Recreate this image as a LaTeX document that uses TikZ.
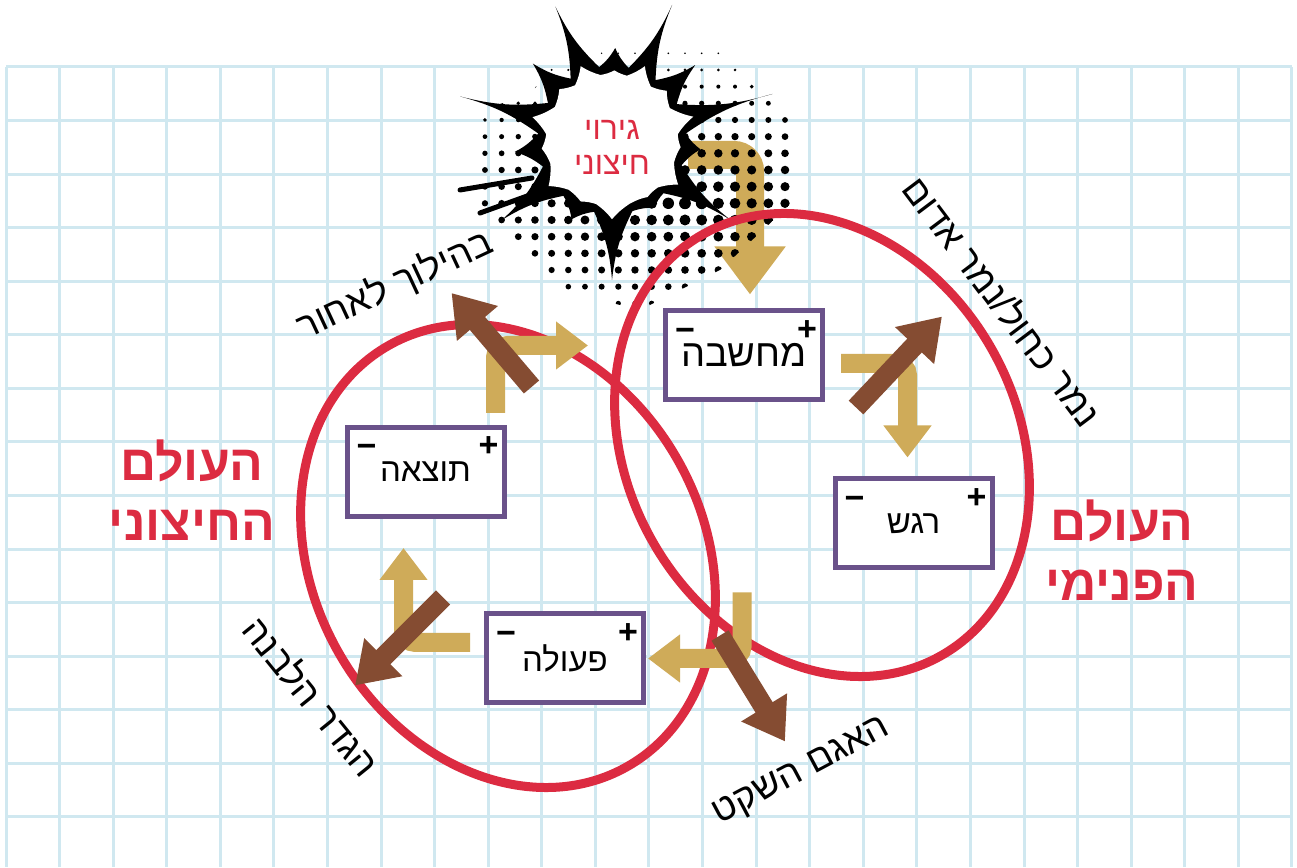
\documentclass[tikz,border=0pt]{standalone}
\usepackage{fontspec}
\setmainfont[Script=Hebrew]{Liberation Sans}
\usetikzlibrary{arrows.meta,positioning}
\TeXXeTstate=1
\definecolor{gridblue}{RGB}{208,232,240}
\definecolor{worldred}{RGB}{220,43,65}
\definecolor{turngold}{RGB}{207,171,89}
\definecolor{escapebrown}{RGB}{133,76,50}
\definecolor{boxpurple}{RGB}{106,82,138}
\tikzset{
    stage/.style={
        draw=boxpurple,
        line width=5pt,
        fill=white,
        minimum width=157pt,
        minimum height=89pt,
        inner sep=0pt,
        font=\fontsize{33}{38}\selectfont
    },
    sign/.style={font=\bfseries\fontsize{34}{34}\selectfont, inner sep=0pt,
        text height=16pt, text depth=0pt},
    turn/.style={draw=turngold, line width=19pt, rounded corners=12pt,
        -{Triangle[width=46pt,length=32pt]}},
    escape/.style={draw=escapebrown, line width=20pt,
        -{Triangle[width=51pt,length=40pt]}},
    ring/.style={draw=worldred, line width=9pt},
    world/.style={text=worldred, align=center,
        font=\bfseries\fontsize{50}{60}\selectfont},
    way/.style={font=\fontsize{37}{42}\selectfont, inner sep=0pt}
}
\begin{document}
\begin{tikzpicture}[x=1pt,y=1pt]
    \useasboundingbox (0,0) rectangle (1297,867);
    \fill[white] (0,0) rectangle (1297,867);
    % squared paper
    \foreach \i in {0,...,24}
        \draw[gridblue, line width=3pt] (6+53.58*\i,0) -- (6+53.58*\i,800);
    \foreach \j in {0,...,14}
        \draw[gridblue, line width=3pt] (6,800-53.57*\j) -- (1292,800-53.57*\j);

    \node[font=\fontsize{32}{35}\selectfont, text=worldred, align=center] (Trigger) at (612,720)
        {\beginR גירוי\endR\\\beginR חיצוני\endR};
    \node[stage, font=\fontsize{38}{42}\selectfont] (Thought) at (744,511.5) {\beginR מחשבה\endR};
    \node[stage] (Feeling) at (913.5,343.5) {\beginR רגש\endR};
    \node[stage] (Result) at (425.5,395) {\beginR תוצאה\endR};
    \node[stage] (Action) at (565,208.5) {\beginR פעולה\endR};

    \draw[turn, line width=28pt, rounded corners=16pt, -{Triangle[width=68pt,length=48pt]}]
        ([xshift=76,yshift=-8]Trigger.center) -| ([xshift=6,yshift=14]Thought.north);

    % halftone dots
    \begin{scope}
        \clip (565,822) -- (700,839) -- (790,747) -- (795,667) -- (720,597) -- (640,557)
            -- (560,577) -- (480,657) -- (480,757) -- (530,772) -- cycle;
        \foreach \i in {-5,...,13}
            \foreach \j in {0,...,15} {
                \pgfmathsetmacro\dx{568.3+16.67*\i}
                \pgfmathsetmacro\dy{813.7-16.67*\j}
                \pgfmathsetmacro\dr{6-10*sqrt(((\dx-690)/24)^2+((\dy-662)/10)^2)/30}
                \ifdim\dr pt>0.7pt \fill (\dx,\dy) circle (\dr); \fi
            }
    \end{scope}

    % burst
    \begin{scope}[shift={(612,727)}]
        \fill (5:74) \foreach \t/\r/\v in {16/167/29, 42/112/54, 66/148/77, 88/92/100,
            113/145/124, 136/110/150, 164/158/175, 187/98/201, 216/136/229,
            243/89/256, 270/140/286, 302/80/314, 326/143/340, 354/89/365}
            { to[bend left=10] (\t:\r) to[bend left=10] (\v:74) } -- cycle;
        \fill[white] (5:66) \foreach \t/\r/\v in {16/167/29, 42/112/54, 66/148/77, 88/92/100,
            113/145/124, 136/110/150, 164/158/175, 187/98/201, 216/136/229,
            243/89/256, 270/140/286, 302/80/314, 326/143/340, 354/89/365}
            { to[bend left=8] ({\t}:{66+(\r-74)*0.2}) to[bend left=8] (\v:66) } -- cycle;
    \end{scope}
    \draw[line width=5pt, line cap=round] (460,677) -- (532,689);
    \draw[line width=5pt, line cap=round] (480,654) -- (530,672);
    \node[font=\fontsize{32}{35}\selectfont, text=worldred, align=center] at (Trigger)
        {\beginR גירוי\endR\\\beginR חיצוני\endR};

    % the two worlds
    \draw[ring, rotate around={29.5:(508,311)}] (508,311) ellipse [x radius=195, y radius=242];
    \draw[ring, rotate around={29.5:(822,422)}] (822,422) ellipse [x radius=195, y radius=242];

    \draw[turn] ([xshift=16,yshift=-8]Thought.east) -| ([xshift=-6,yshift=19]Feeling.north);
    \draw[turn] ([xshift=70,yshift=12]Result.north) |- ([xshift=-75,yshift=10]Thought.west);
    \draw[turn] ([xshift=96,yshift=66]Action.east) |- ([xshift=2]Action.east);
    \draw[turn] ([xshift=-14,yshift=16]Action.west) -| ([xshift=-22,yshift=-29]Result.south);

    \draw[escape] ([shift={(106,38)}]Result.north) -- ([shift={(26,132)}]Result.north);
    \draw[escape] ([shift={(31,-5)}]Thought.south east) -- ([shift={(117,86)}]Thought.south east);
    \draw[escape] ([shift={(74,23)}]Action.east) -- ([shift={(139,-83)}]Action.east);
    \draw[escape] ([shift={(-41,61)}]Action.west) -- ([shift={(-129,-27)}]Action.west);

    \foreach \b in {Thought,Feeling,Result,Action} {
        \node[sign] at ([xshift=22,yshift=-25]\b.north west) {−};
        \node[sign] at ([xshift=-18,yshift=-24]\b.north east) {+};
    }

    \node[world] (Outer) at (192,377) {\beginR העולם\endR\\\beginR החיצוני\endR};
    \node[world] (Inner) at (1122,317) {\beginR העולם\endR\\\beginR הפנימי\endR};

    \node[way, rotate=25] (Reverse) at (395,582) {\beginR בהילוך לאחור\endR};
    \node[way, rotate=-53] (Tiger) at (1003,566) {\beginR נמר כחול/נמר אדום\endR};
    \node[way, rotate=-51] (Fence) at (312,171) {\beginR הגדר הלבנה\endR};
    \node[way, rotate=28] (Lake) at (802,95) {\beginR האגם השקט\endR};
\end{tikzpicture}
\end{document}
